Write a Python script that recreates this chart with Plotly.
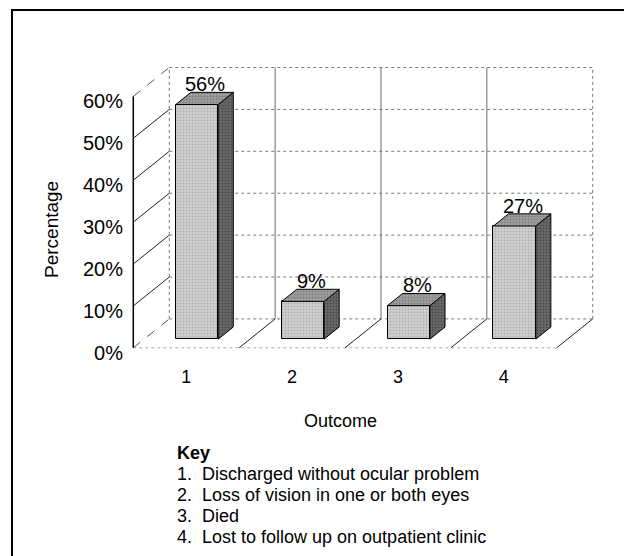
import plotly.graph_objects as go

# ---- data ----
categories = [1, 2, 3, 4]
cat_labels = ["1", "2", "3", "4"]
values = [56, 9, 8, 27]
value_labels = ["56%", "9%", "8%", "27%"]
y_ticks = [0, 10, 20, 30, 40, 50, 60]
y_tick_labels = ["0%", "10%", "20%", "30%", "40%", "50%", "60%"]
key_numbers = ["1.", "2.", "3.", "4."]
key_texts = ["Discharged without ocular problem",
             "Loss of vision in one or both eyes",
             "Died",
             "Lost to follow up on outpatient clinic"]

# ---- pseudo-3D geometry (in axis units) ----
DX = 0.34      # depth offset along x (category units)
DY = 6.9       # depth offset along y (percent units)
W = 0.40       # bar width (category units)
D0, D1 = 0.30, 0.72   # bar front/back depth fractions
YMAX = 60

OFF = 8        # page body margin in the browser
XPX = 106.0    # px per category
YPX = 4.19     # px per percent
X_ORIGIN_PX = 133 - OFF   # figure px of c=0.5
Y_ORIGIN_PX = 348 - OFF   # figure px of 0%

xr = [0.45, 4.5 + DX + 0.05]
yr = [-1.0, YMAX + DY + 0.6]
W_FIG, H_FIG = 632 - OFF, 556 - OFF
plot_l = X_ORIGIN_PX - (0.5 - xr[0]) * XPX
plot_w = (xr[1] - xr[0]) * XPX
plot_b = Y_ORIGIN_PX + (0 - yr[0]) * YPX
plot_h = (yr[1] - yr[0]) * YPX
m_l = round(plot_l)
m_r = round(W_FIG - plot_l - plot_w)
m_b = round(H_FIG - plot_b)
m_t = round(H_FIG - m_b - plot_h)
pw = W_FIG - m_l - m_r
ph = H_FIG - m_t - m_b


def px_x(px):
    """page px -> paper x"""
    return (px - OFF - m_l) / pw


def px_y(py):
    """page px -> paper y"""
    return (H_FIG - m_b - (py - OFF)) / ph


FONT = "Arial, Liberation Sans, sans-serif"
fig = go.Figure()

shapes = []


def seg(x0, y0, x1, y1, color="black", width=1, dash="solid"):
    shapes.append(dict(type="line", xref="x", yref="y", x0=x0, y0=y0, x1=x1, y1=y1,
                       line=dict(color=color, width=width, dash=dash), layer="below"))


x_left, x_right = 0.5, categories[-1] + 0.5
# back wall gridlines
for v in y_ticks:
    seg(x_left + DX, v + DY, x_right + DX, v + DY, color="#7a7a7a", width=1, dash="dot")
seg(x_left + DX, DY, x_left + DX, YMAX + DY, color="#7a7a7a", dash="dot")
seg(x_right + DX, DY, x_right + DX, YMAX + DY, color="#7a7a7a", dash="dot")
for c in categories[:-1]:
    seg(c + 0.5 + DX, DY, c + 0.5 + DX, YMAX + DY, color="#6a6a6a", width=1)
# side wall diagonals
for v in y_ticks:
    if v in (0, YMAX):
        seg(x_left, v, x_left + DX, v + DY, color="#555", dash="dash")
    else:
        seg(x_left, v, x_left + DX, v + DY, color="#222")
# floor
seg(x_left, 0, x_right, 0, color="#aaaaaa", dash="dot")
for c in categories:
    seg(c + 0.5, 0, c + 0.5 + DX, DY, color="#222")
# front value axis
seg(x_left, 0, x_left, YMAX, color="black", width=1.5)

# outer frame (paper refs)
shapes.append(dict(type="path", xref="paper", yref="paper",
                   path=f"M {px_x(12)} {px_y(570)} L {px_x(12)} {px_y(10)} L {px_x(629)} {px_y(10)} L {px_x(629)} {px_y(570)}",
                   line=dict(color="black", width=2)))

# bars: side & top faces as filled polygons, front face as bars
for c, v in zip(categories, values):
    xl0 = c - W / 2 + D0 * DX
    xr0 = c + W / 2 + D0 * DX
    xl1 = c - W / 2 + D1 * DX
    xr1 = c + W / 2 + D1 * DX
    yb0, yb1 = D0 * DY, D1 * DY
    # side face
    fig.add_trace(go.Scatter(
        x=[xr0, xr1, xr1, xr0, xr0], y=[yb0, yb1, v + yb1, v + yb0, yb0],
        mode="lines", fill="toself", fillcolor="#5c5c5c",
        fillpattern=dict(shape=".", fgcolor="#2a2a2a", bgcolor="#6a6a6a", size=3, solidity=0.35),
        line=dict(color="black", width=1), hoverinfo="skip", showlegend=False))
    # top face
    fig.add_trace(go.Scatter(
        x=[xl0, xr0, xr1, xl1, xl0], y=[v + yb0, v + yb0, v + yb1, v + yb1, v + yb0],
        mode="lines", fill="toself", fillcolor="#9a9a9a",
        fillpattern=dict(shape=".", fgcolor="#555555", bgcolor="#a0a0a0", size=3, solidity=0.35),
        line=dict(color="black", width=1), hoverinfo="skip", showlegend=False))

fig.add_trace(go.Bar(
    x=[c + D0 * DX for c in categories], y=values, base=[D0 * DY] * len(values), width=W,
    marker=dict(color="#cdcdcd", line=dict(color="black", width=1),
                pattern=dict(shape=".", fgcolor="#8e8e8e", bgcolor="#d0d0d0", size=3, solidity=0.3)),
    hoverinfo="skip", showlegend=False))

annotations = []
for c, v, t in zip(categories, values, value_labels):
    annotations.append(dict(x=c + D0 * DX + 0.08, y=v + D1 * DY, xref="x", yref="y", text=t,
                            showarrow=False, xanchor="center", yanchor="bottom", yshift=-5,
                            font=dict(family=FONT, size=20, color="black")))

annotations.append(dict(x=px_x(52), y=px_y(230), xref="paper", yref="paper", text="Percentage",
                        textangle=-90, showarrow=False, xanchor="center", yanchor="middle",
                        font=dict(family=FONT, size=19, color="black")))
annotations.append(dict(x=px_x(340), y=px_y(421), xref="paper", yref="paper", text="Outcome",
                        showarrow=False, xanchor="center", yanchor="middle",
                        font=dict(family=FONT, size=18, color="black")))
annotations.append(dict(x=px_x(175), y=px_y(453), xref="paper", yref="paper", text="<b>Key</b>",
                        showarrow=False, xanchor="left", yanchor="middle",
                        font=dict(family=FONT, size=18, color="black")))
for i, (n, t) in enumerate(zip(key_numbers, key_texts)):
    yy = px_y(474 + i * 21)
    annotations.append(dict(x=px_x(175), y=yy, xref="paper", yref="paper", text=n,
                            showarrow=False, xanchor="left", yanchor="middle",
                            font=dict(family=FONT, size=18, color="black")))
    annotations.append(dict(x=px_x(200), y=yy, xref="paper", yref="paper", text=t,
                            showarrow=False, xanchor="left", yanchor="middle",
                            font=dict(family=FONT, size=18, color="black")))

fig.update_layout(
    width=W_FIG, height=H_FIG,
    margin=dict(l=m_l, r=m_r, t=m_t, b=m_b, pad=0),
    paper_bgcolor="white", plot_bgcolor="white",
    showlegend=False, bargap=0,
    shapes=shapes, annotations=annotations,
    xaxis=dict(range=xr, tickmode="array", tickvals=categories, ticktext=cat_labels,
               showgrid=False, zeroline=False, showline=False, ticks="",
               ticklabelstandoff=12, tickfont=dict(family=FONT, size=18, color="black"),
               fixedrange=True),
    yaxis=dict(range=yr, tickmode="array", tickvals=y_ticks, ticktext=y_tick_labels,
               showgrid=False, zeroline=False, showline=False, ticks="",
               ticklabelstandoff=4, ticklabelshift=5,
               tickfont=dict(family=FONT, size=20, color="black"), fixedrange=True),
)

fig.write_html("out.html", config={"displayModeBar": False})
